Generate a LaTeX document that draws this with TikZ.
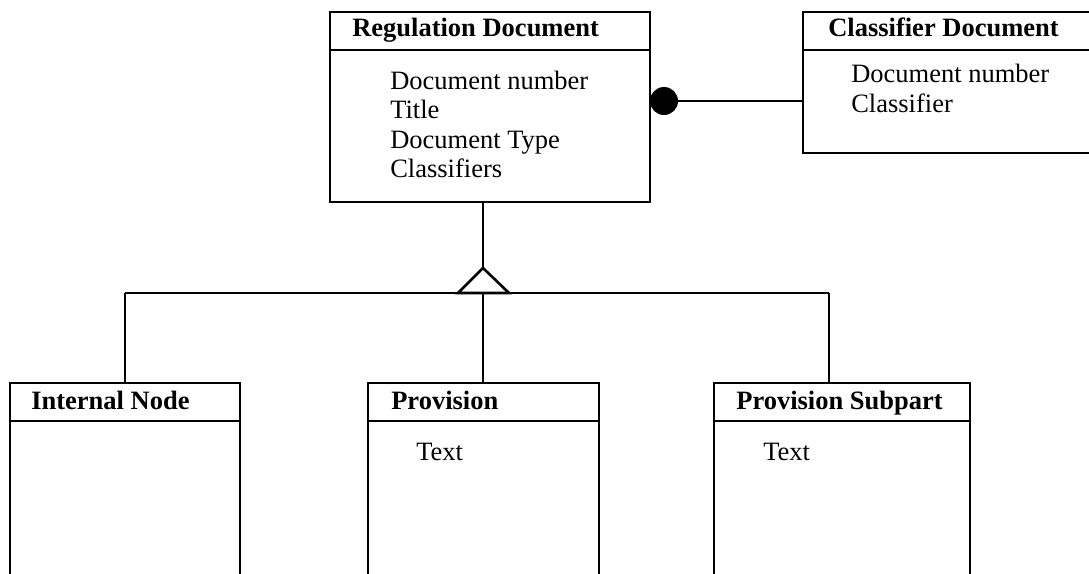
\documentclass[tikz,border=0pt]{standalone}
\usepackage{fontspec}
\setmainfont{Liberation Serif}
\begin{document}
\begin{tikzpicture}[x=1pt,y=-1pt,line width=2.6pt,
  box/.style={draw,rectangle,anchor=north west,inner sep=0pt,outer sep=0pt},
  ttl/.style={anchor=base west,inner sep=0pt,font=\bfseries\fontsize{26.5}{29}\selectfont},
  attr/.style={anchor=base west,inner sep=0pt,font=\fontsize{26.5}{29}\selectfont}]
\useasboundingbox (0,0) rectangle (1089,573);
\clip (0,0) rectangle (1089,573);
% Regulation Document
\node[box,minimum width=320pt,minimum height=190pt] (reg) at (330,12) {};
\draw ([yshift=-38pt]reg.north west) -- ([yshift=-38pt]reg.north east);
\node[ttl] (regt) at (351,36) {Regulation Document};
\node[attr] (r1) at (389,89) {Document number};
\node[attr] (r2) at (389,118) {Title};
\node[attr] (r3) at (389,148) {Document Type};
\node[attr] (r4) at (389,177) {Classifiers};
% Classifier Document
\node[box,minimum width=300pt,minimum height=141pt] (cls) at (803,12) {};
\draw ([yshift=-38pt]cls.north west) -- ([yshift=-38pt]cls.north east);
\node[ttl] (clst) at (827,36) {Classifier Document};
\node[attr] (c1) at (850,82) {Document number};
\node[attr] (c2) at (850,112) {Classifier};
% association
\node[circle,fill,minimum size=28pt,inner sep=0pt] (dot) at (664,101) {};
\draw (dot.center) -- (dot.center -| cls.west);
% bottom boxes
\node[box,minimum width=230pt,minimum height=250pt] (inode) at (10,383) {};
\draw ([yshift=-38pt]inode.north west) -- ([yshift=-38pt]inode.north east);
\node[ttl] (inodet) at (30,409) {Internal Node};
\node[box,minimum width=231pt,minimum height=250pt] (prov) at (368,383) {};
\draw ([yshift=-38pt]prov.north west) -- ([yshift=-38pt]prov.north east);
\node[ttl] (provt) at (390,409) {Provision};
\node[attr] (p1) at (415,460) {Text};
\node[box,minimum width=256pt,minimum height=250pt] (sub) at (714,383) {};
\draw ([yshift=-38pt]sub.north west) -- ([yshift=-38pt]sub.north east);
\node[ttl] (subt) at (735,409) {Provision Subpart};
\node[attr] (s1) at (762,460) {Text};
% generalization
\coordinate (apex) at (483,268);
\coordinate (busL) at (125,293);
\coordinate (busM) at (483,293);
\coordinate (busR) at (829,293);
\draw (apex |- reg.south) -- (apex);
\draw[line join=miter] (apex) -- (458,293) -- (509,293) -- cycle;
\draw (busL) -- (busR);
\draw (busL) -- (busL |- inode.north);
\draw (busM) -- (busM |- prov.north);
\draw (busR) -- (busR |- sub.north);
\end{tikzpicture}
\end{document}
